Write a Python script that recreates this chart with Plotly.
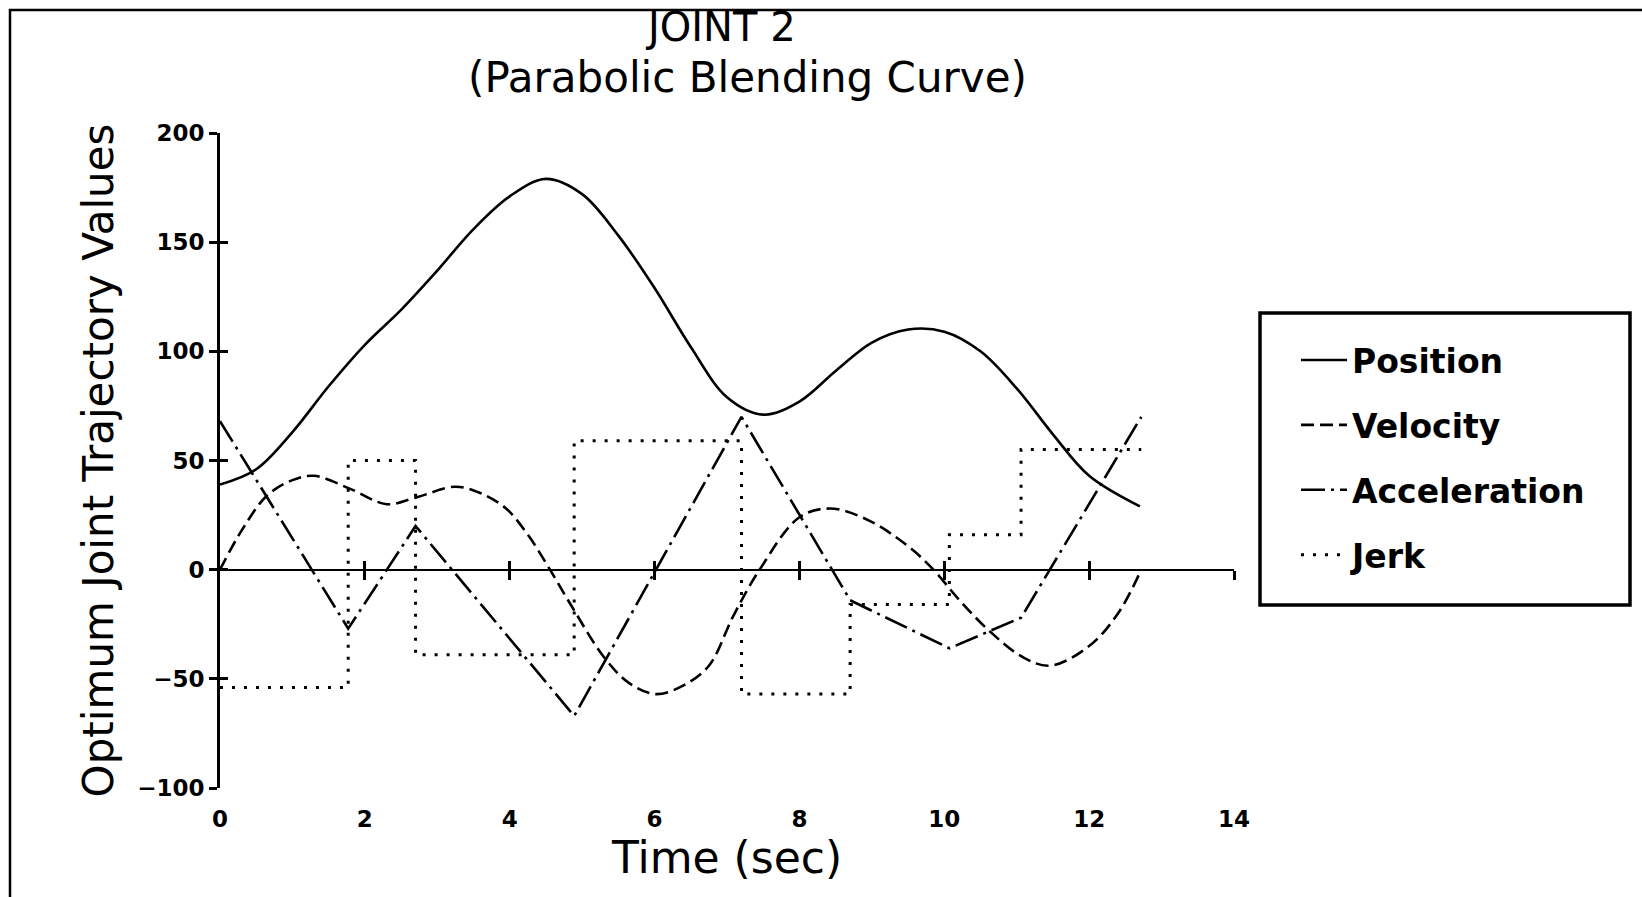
import plotly.graph_objects as go

# ---------------- text ----------------
title_lines = ["JOINT 2", "(Parabolic Blending Curve)"]
x_title = "Time (sec)"
y_title = "Optimum Joint Trajectory Values"
x_tick_vals = [0, 2, 4, 6, 8, 10, 12, 14]
x_tick_text = ["0", "2", "4", "6", "8", "10", "12", "14"]
y_tick_vals = [-100, -50, 0, 50, 100, 150, 200]
y_tick_text = ["\u2212100", "\u221250", "0", "50", "100", "150", "200"]
series_names = ["Position", "Velocity", "Acceleration", "Jerk"]

# ---------------- data ----------------
pos_t = [0, 0.5, 1.0, 1.5, 2.0, 2.5, 3.0, 3.5, 4.0, 4.5, 5.0, 5.5, 6.0, 6.5,
         7.0, 7.5, 8.0, 8.5, 9.0, 9.5, 10.0, 10.5, 11.0, 11.5, 12.0, 12.7]
pos_v = [39, 46, 63, 84, 103, 119, 137, 156, 171, 179, 172, 153, 129, 102,
         79, 71, 77, 91, 104, 110, 109, 100, 83, 62, 43, 29]

vel_t = [0, 0.3, 0.65, 1.0, 1.3, 1.8, 2.3, 2.7, 3.25, 3.6, 3.95, 4.25, 4.52,
         4.86, 5.3, 5.65, 6.02, 6.4, 6.75, 7.09, 7.45, 8.0, 8.42, 8.93, 9.49,
         9.85, 10.21, 10.62, 11.08, 11.46, 12.0, 12.4, 12.72]
vel_v = [0, 18, 34, 41, 43, 37, 30, 33, 38, 35, 28, 16, 2,
         -17, -40, -52, -57, -53, -44, -21, 0, 24, 28, 23, 11,
         0, -14, -28, -40, -44, -35, -20, 0]

acc_t = [0, 1.77, 2.70, 4.89, 7.20, 8.70, 10.07, 11.06, 12.72]
acc_v = [68, -27, 20, -67, 70, -14, -36, -22, 70]

jerk_t = [0, 1.77, 2.70, 4.89, 7.20, 8.70, 10.07, 11.06, 12.72]
jerk_v = [-54, 50, -39, 59, -57, -16, 16, 55, 55]

# ---------------- geometry ----------------
W, H = 1642, 897
ML, MR, MT, MB = 220, 408, 133, 109
PW, PH = W - ML - MR, H - MT - MB


def px(xp):
    return (xp - ML) / PW


def py(yp):
    return (H - MB - yp) / PH


TITLE_FONT = "DejaVu Sans, sans-serif"
BOLD_FONT = "DejaVu Sans, sans-serif"
LW = 2.6

fig = go.Figure()
fig.add_trace(go.Scatter(x=pos_t, y=pos_v, name=series_names[0], mode="lines",
                         line=dict(color="black", width=LW, shape="spline", smoothing=1.0),
                         legendgroup="a"))
fig.add_trace(go.Scatter(x=vel_t, y=vel_v, name=series_names[1], mode="lines",
                         line=dict(color="black", width=LW, shape="spline", smoothing=1.0,
                                   dash="13px,6px"),
                         legendgroup="b"))
fig.add_trace(go.Scatter(x=acc_t, y=acc_v, name=series_names[2], mode="lines",
                         line=dict(color="black", width=LW, dash="24px,6px,3px,6px"),
                         legendgroup="c"))
fig.add_trace(go.Scatter(x=jerk_t, y=jerk_v, name=series_names[3], mode="lines",
                         line=dict(color="black", width=LW + 0.4, shape="hv", dash="3px,9px"),
                         legendgroup="d"))
# helper traces so the overlay axes are drawn
fig.add_trace(go.Scatter(x=[None], y=[None], xaxis="x3", yaxis="y2", showlegend=False,
                         hoverinfo="skip"))
fig.add_trace(go.Scatter(x=[None], y=[None], xaxis="x2", yaxis="y", showlegend=False,
                         hoverinfo="skip"))

zero_pos = (0 - y_tick_vals[0]) / (y_tick_vals[-1] - y_tick_vals[0])

fig.update_layout(
    width=W, height=H, autosize=False,
    margin=dict(l=ML, r=MR, t=MT, b=MB, pad=0),
    paper_bgcolor="white", plot_bgcolor="white",
    showlegend=True,
    annotations=[
        dict(text=title_lines[0], x=px(720), y=py(27), xref="paper", yref="paper",
             xanchor="center", yanchor="middle", showarrow=False, borderpad=0,
             font=dict(family=TITLE_FONT, size=40, color="black")),
        dict(text=title_lines[1], x=px(747), y=py(78), xref="paper", yref="paper",
             xanchor="center", yanchor="middle", showarrow=False, borderpad=0,
             font=dict(family=TITLE_FONT, size=42, color="black")),
    ],
    xaxis=dict(range=[0, 14], domain=[0, 1], anchor="free", position=zero_pos,
               showline=True, linecolor="black", linewidth=2.2,
               ticks="outside", ticklen=9, tickwidth=3, tickcolor="black",
               tickvals=x_tick_vals[1:], showticklabels=False,
               showgrid=False, zeroline=False),
    xaxis3=dict(range=[0, 14], overlaying="x", anchor="free", position=zero_pos,
                showline=False, ticks="inside", ticklen=9, tickwidth=3, tickcolor="black",
                tickvals=x_tick_vals[1:], showticklabels=False,
                showgrid=False, zeroline=False),
    xaxis2=dict(range=[0, 14], overlaying="x", anchor="y", side="bottom",
                showline=False, ticks="", tickvals=x_tick_vals, ticktext=x_tick_text,
                tickfont=dict(family=BOLD_FONT, size=23, color="black", weight="bold"),
                ticklabelstandoff=15, showgrid=False, zeroline=False,
                title=dict(text=x_title, standoff=11,
                           font=dict(family=TITLE_FONT, size=44, color="black"))),
    yaxis=dict(range=[-100, 200], domain=[0, 1], anchor="x", side="left",
               showline=True, linecolor="black", linewidth=2.6,
               ticks="outside", ticklen=8, tickwidth=2.5, tickcolor="black",
               tickvals=y_tick_vals, ticktext=y_tick_text,
               tickfont=dict(family=BOLD_FONT, size=23, color="black", weight="bold"),
               showgrid=False, zeroline=False,
               title=dict(text=y_title, standoff=11,
                          font=dict(family=TITLE_FONT, size=42, color="black"))),
    yaxis2=dict(range=[-100, 200], overlaying="y", anchor="x", side="left",
                showline=False, ticks="inside", ticklen=8, tickwidth=2.5, tickcolor="black",
                tickvals=y_tick_vals, showticklabels=False,
                showgrid=False, zeroline=False),
    legend=dict(x=px(1296), xref="paper", xanchor="left",
                y=py(332), yref="paper", yanchor="top",
                bgcolor="rgba(0,0,0,0)", borderwidth=0,
                font=dict(family=BOLD_FONT, size=33, color="black", weight="bold"),
                tracegroupgap=19, itemwidth=46, traceorder="grouped"),
    shapes=[
        # outer frame
        dict(type="rect", xref="paper", yref="paper",
             x0=px(10), x1=px(1700), y0=py(950), y1=py(10),
             line=dict(color="black", width=2.5), fillcolor="rgba(0,0,0,0)", layer="below"),
        # legend box
        dict(type="rect", xref="paper", yref="paper",
             x0=px(1260), x1=px(1630), y0=py(605), y1=py(313),
             line=dict(color="black", width=3.5), fillcolor="white", layer="below"),
    ],
)

fig.write_html("out.html")
